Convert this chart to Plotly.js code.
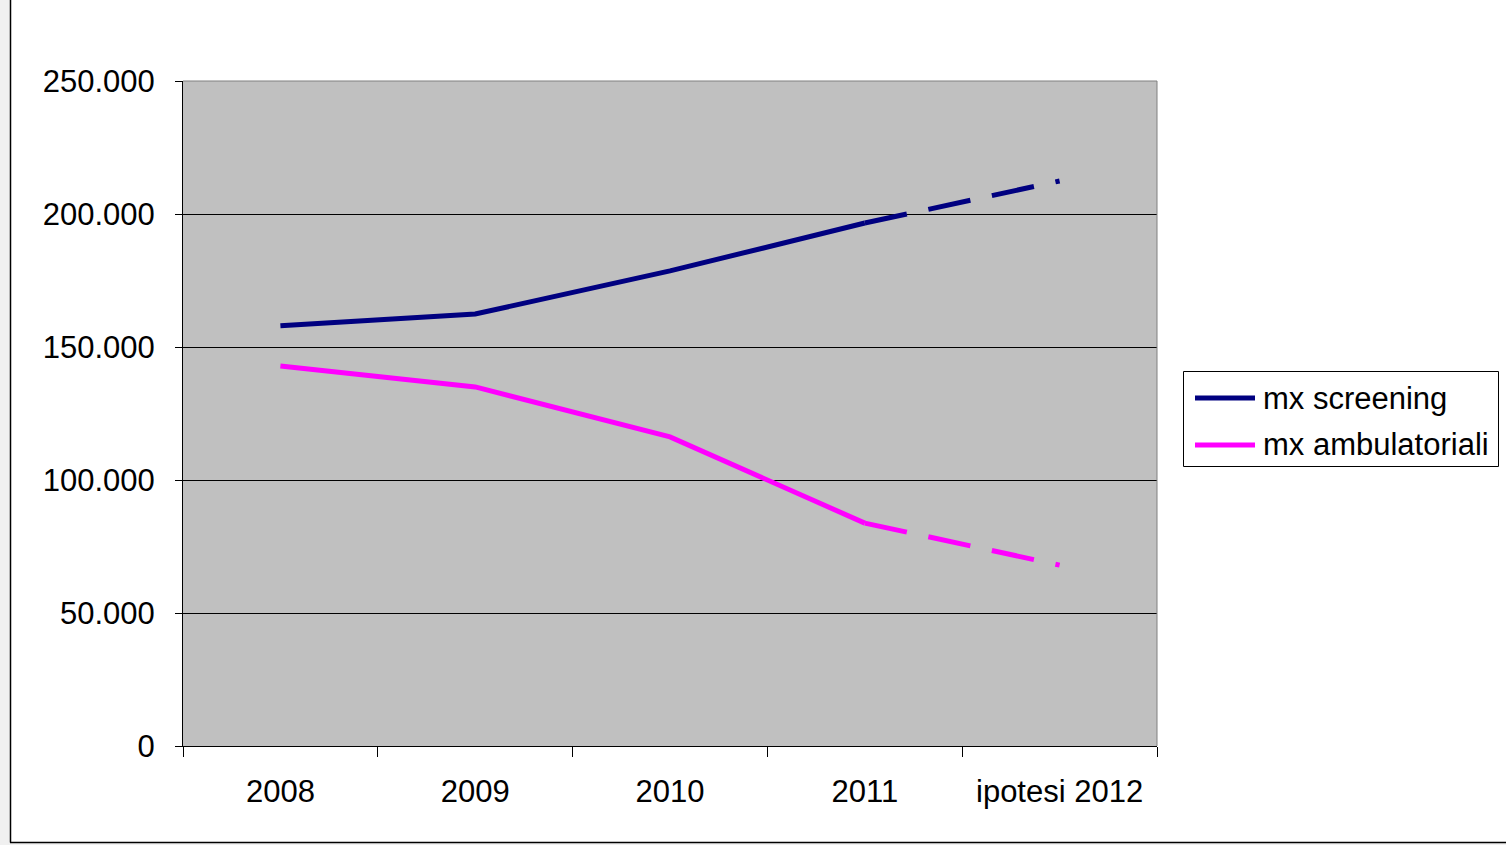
<!DOCTYPE html>
<html>
<head>
<meta charset="utf-8">
<script src="https://cdn.plot.ly/plotly-3.0.1.min.js"></script>
<style>html,body{margin:0;padding:0;background:#fff;}#chart{width:1506px;height:845px;}</style>
</head>
<body>
<div id="chart"></div>
<script>
const categories = ["2008", "2009", "2010", "2011", "ipotesi 2012"];
const screening = [158000, 162400, 178600, 196600, 212400];
const ambulatoriali = [142900, 135000, 116200, 83800, 68000];
const seriesNames = ["mx screening", "mx ambulatoriali"];
const yTicks = [0, 50000, 100000, 150000, 200000, 250000];

const NAVY = "#000080", MAGENTA = "#ff00ff";
const COLORS = [NAVY, MAGENTA];
const FONT = "Liberation Sans, Arial, sans-serif";

function solidPart(arr){ return arr.map((v,i)=> i<=3 ? v : null); }
function dashPart(arr){ return arr.map((v,i)=> i>=3 ? v : null); }

const LW = 5;
const traces = [
  {x: categories, y: solidPart(screening), type: "scatter", mode: "lines", name: seriesNames[0],
   line: {color: NAVY, width: LW}, showlegend: false},
  {x: categories, y: dashPart(screening), type: "scatter", mode: "lines", showlegend: false,
   line: {color: NAVY, width: LW, dash: "43px,22px"}},
  {x: categories, y: solidPart(ambulatoriali), type: "scatter", mode: "lines", name: seriesNames[1],
   line: {color: MAGENTA, width: LW}, showlegend: false},
  {x: categories, y: dashPart(ambulatoriali), type: "scatter", mode: "lines", showlegend: false,
   line: {color: MAGENTA, width: LW, dash: "43px,22px"}}
];

const W = 1506, H = 845;
const L = 183, R = 1157, T = 81, B = 746;
const pw = R - L, ph = B - T;
function px2x(p){ return (p - L) / pw; }
function py2y(p){ return (B - p) / ph; }

const shapes = [
  // plot area top/right border
  {type: "line", xref: "paper", yref: "paper", x0: 0, x1: 1, y0: 1, y1: 1, line: {color: "#808080", width: 1}},
  {type: "line", xref: "paper", yref: "paper", x0: 1, x1: 1, y0: 0, y1: 1, line: {color: "#808080", width: 1}},
  // outer gray strips
  {type: "rect", xref: "paper", yref: "paper", x0: px2x(0), x1: px2x(10), y0: py2y(850), y1: py2y(-5), fillcolor: "#f0f0f0", line: {width: 0}},
  {type: "rect", xref: "paper", yref: "paper", x0: px2x(10), x1: px2x(1510), y0: py2y(850), y1: py2y(842), fillcolor: "#f0f0f0", line: {width: 0}},
  // chart frame
  {type: "line", xref: "paper", yref: "paper", x0: px2x(10.5), x1: px2x(10.5), y0: py2y(842.5), y1: py2y(-5), line: {color: "#000", width: 1.5}},
  {type: "line", xref: "paper", yref: "paper", x0: px2x(10), x1: px2x(1510), y0: py2y(842.5), y1: py2y(842.5), line: {color: "#000", width: 1.5}},
  // legend box
  {type: "rect", xref: "paper", yref: "paper", x0: px2x(1183.5), x1: px2x(1498.5), y0: py2y(466.5), y1: py2y(371.5), fillcolor: "#ffffff", line: {color: "#000", width: 1}}
];
const annotations = [];
const legendRows = [398, 445];
seriesNames.forEach((name, i) => {
  shapes.push({type: "line", xref: "paper", yref: "paper", x0: px2x(1195), x1: px2x(1255),
    y0: py2y(legendRows[i]), y1: py2y(legendRows[i]), line: {color: COLORS[i], width: LW}});
  annotations.push({xref: "paper", yref: "paper", x: px2x(1261), y: py2y(legendRows[i]),
    xanchor: "left", yanchor: "middle", text: name, showarrow: false,
    font: {family: FONT, size: 31, color: "#000"}});
});

const layout = {
  width: W, height: H,
  margin: {l: L, r: W - R, t: T, b: H - B, pad: 0},
  paper_bgcolor: "#ffffff",
  plot_bgcolor: "#c0c0c0",
  separators: ",.",
  font: {family: FONT, color: "#000", size: 31},
  showlegend: false,
  xaxis: {
    type: "category", categoryorder: "array", categoryarray: categories,
    range: [-0.5, 4.5], showgrid: false, zeroline: false,
    showline: true, linecolor: "#000", linewidth: 1,
    ticks: "outside", tickson: "boundaries", ticklen: 10, tickcolor: "#000", tickwidth: 1,
    tickfont: {family: FONT, size: 31, color: "#000"},
    ticklabelstandoff: 18, fixedrange: true
  },
  yaxis: {
    range: [0, 250000], tickvals: yTicks, tickformat: ",.0f",
    showgrid: true, gridcolor: "#000", gridwidth: 1, zeroline: false,
    showline: true, linecolor: "#000", linewidth: 1,
    ticks: "outside", ticklen: 7, tickcolor: "#000", tickwidth: 1,
    tickfont: {family: FONT, size: 31, color: "#000"},
    ticklabelstandoff: 14, fixedrange: true
  },
  shapes: shapes,
  annotations: annotations
};

Plotly.newPlot("chart", traces, layout, {staticPlot: true, displayModeBar: false});
</script>
</body>
</html>
